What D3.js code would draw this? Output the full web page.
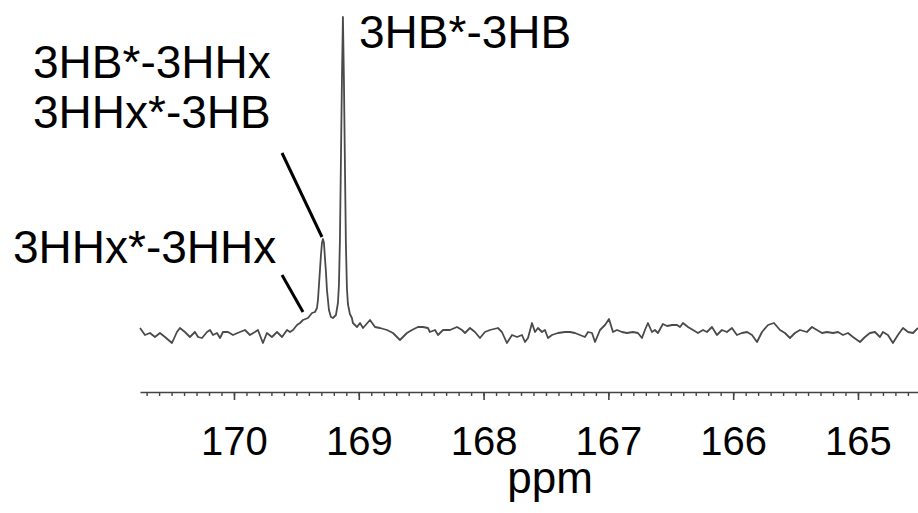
<!DOCTYPE html>
<html>
<head>
<meta charset="utf-8">
<script src="https://cdn.jsdelivr.net/npm/d3@7"></script>
<style>
  body { margin: 0; background: #fff; }
  svg { display: block; font-family: "Liberation Sans", Arial, sans-serif; }
</style>
</head>
<body>
<div id="chart"></div>
<script>
// chemical shift (ppm) and intensity
const ppm = [
  170.753, 170.713, 170.673, 170.633, 170.593, 170.553, 170.497, 170.457, 170.433, 170.393,
  170.353, 170.313, 170.288, 170.256, 170.216, 170.192, 170.168, 170.136, 170.112, 170.088,
  170.048, 170.008, 169.952, 169.912, 169.872, 169.832, 169.808, 169.768, 169.736, 169.696,
  169.655, 169.615, 169.575, 169.551, 169.527, 169.495, 169.471, 169.447, 169.407, 169.375,
  169.351, 169.335, 169.327, 169.311, 169.303, 169.295, 169.287, 169.279, 169.271, 169.263,
  169.255, 169.239, 169.223, 169.207, 169.183, 169.167, 169.159, 169.151, 169.143, 169.135,
  169.127, 169.119, 169.111, 169.103, 169.095, 169.087, 169.071, 169.055, 169.047, 169.014,
  168.990, 168.966, 168.910, 168.870, 168.830, 168.774, 168.726, 168.670, 168.614, 168.574,
  168.526, 168.486, 168.446, 168.430, 168.389, 168.365, 168.325, 168.269, 168.213, 168.173,
  168.149, 168.109, 168.069, 168.029, 167.989, 167.949, 167.885, 167.853, 167.813, 167.772,
  167.732, 167.692, 167.668, 167.644, 167.612, 167.588, 167.564, 167.532, 167.508, 167.484,
  167.452, 167.404, 167.348, 167.308, 167.268, 167.228, 167.188, 167.163, 167.131, 167.107,
  167.067, 167.027, 166.995, 166.963, 166.931, 166.891, 166.851, 166.803, 166.763, 166.731,
  166.707, 166.683, 166.651, 166.627, 166.603, 166.563, 166.530, 166.490, 166.450, 166.426,
  166.402, 166.362, 166.322, 166.282, 166.242, 166.210, 166.170, 166.130, 166.090, 166.050,
  166.010, 165.970, 165.930, 165.889, 165.849, 165.809, 165.769, 165.721, 165.673, 165.625,
  165.585, 165.545, 165.505, 165.465, 165.409, 165.369, 165.329, 165.288, 165.248, 165.200,
  165.160, 165.120, 165.080, 165.040, 164.984, 164.944, 164.904, 164.864, 164.824, 164.800,
  164.760, 164.720, 164.680, 164.639, 164.599, 164.559, 164.519
];
const intensity = [
  5, -2, 0, -4, 0, -4, -10, 1, 5, 1,
  -4, 1, -4, -5, 1, 3, -2, 0, -5, 1,
  1, -2, 1, 3, -2, 1, 3, -10, 0, -4,
  1, -4, 3, 1, 3, 8, 10, 13, 15, 20,
  21, 25, 33, 63, 78, 90, 94, 90, 75, 61,
  43, 23, 16, 15, 18, 30, 48, 93, 173, 253,
  316, 253, 168, 88, 45, 29, 19, 15, 10, 6,
  10, 5, 13, 6, 5, 3, 0, -7, 0, 3,
  6, 6, 5, 1, 3, -2, 3, 3, 6, 3,
  0, 5, 1, -5, 1, 3, 5, 1, -10, -2,
  -4, -2, -9, -5, 10, 1, 5, 1, 3, -5,
  -2, 0, 1, 1, 0, -2, -4, 1, 0, -9,
  3, 8, 14, 1, 3, 1, 0, 1, 0, -5,
  3, 10, 1, 3, 0, 9, 7, 8, 8, 6,
  10, 6, 3, 0, 3, 1, 6, -2, 3, 1,
  5, -2, 0, 1, -2, -9, 1, 8, 10, 3,
  0, -5, 0, 3, 1, 6, 3, 0, 1, 0,
  1, -2, 0, -4, -9, -4, 0, 1, -4, 1,
  -2, -10, -2, 5, 1, 0, 5
];

const majorTicks = [170, 169, 168, 167, 166, 165];
const axisTitle = "ppm";

// peak labels and their pointer lines (in ppm / intensity units)
const labels = [
  { lines: ["3HB*-3HB"], x: 359, y: 48 },
  { lines: ["3HB*-3HHx", "3HHx*-3HB"], x: 33, y: 78 },
  { lines: ["3HHx*-3HHx"], x: 13, y: 263 }
];
const pointers = [
  { from: [169.615, 180], to: [169.295, 96] },
  { from: [169.615, 58], to: [169.447, 21] }
];

const width = 918;
const height = 513;

const svg = d3.select("#chart")
  .append("svg")
  .attr("width", width)
  .attr("height", height);

// NMR style: ppm decreases to the right
const x = d3.scaleLinear()
  .domain([170.753, 164.519])
  .range([140, 918]);

const y = d3.scaleLinear()
  .domain([0, 316])
  .range([333, 17]);

const points = ppm.map((p, i) => [p, intensity[i]]);

const line = d3.line()
  .x(d => x(d[0]))
  .y(d => y(d[1]));

svg.append("path")
  .datum(points)
  .attr("fill", "none")
  .attr("stroke", "#4a4a4a")
  .attr("stroke-width", 1.8)
  .attr("stroke-linejoin", "round")
  .attr("d", line);

// axis: minor ticks every 0.1 ppm, major ticks labelled
const axisY = 392;

const minorAxis = svg.append("g")
  .attr("transform", `translate(0,${axisY})`)
  .call(d3.axisBottom(x).ticks(62).tickSize(4).tickSizeOuter(0).tickFormat(""));

const majorAxis = svg.append("g")
  .attr("transform", `translate(0,${axisY})`)
  .call(d3.axisBottom(x).tickValues(majorTicks).tickSize(8).tickSizeOuter(0)
    .tickPadding(27).tickFormat(d3.format("d")));

majorAxis.select(".domain").remove();
minorAxis.select(".domain").attr("stroke", "#444").attr("stroke-width", 1.6);
minorAxis.selectAll(".tick line").attr("stroke", "#444").attr("stroke-width", 1.4);
majorAxis.selectAll(".tick line").attr("stroke", "#444").attr("stroke-width", 1.6);

majorAxis.selectAll(".tick text")
  .attr("fill", "#000")
  .style("font-size", "40px")
  .style("font-family", "'Liberation Sans', Arial, sans-serif");

svg.append("text")
  .attr("x", 550)
  .attr("y", 493)
  .attr("text-anchor", "middle")
  .style("font-size", "44px")
  .text(axisTitle);

// pointer lines
svg.selectAll(".pointer")
  .data(pointers)
  .enter()
  .append("line")
  .attr("class", "pointer")
  .attr("x1", d => x(d.from[0]))
  .attr("y1", d => y(d.from[1]))
  .attr("x2", d => x(d.to[0]))
  .attr("y2", d => y(d.to[1]))
  .attr("stroke", "#000")
  .attr("stroke-width", 3);

// peak labels
labels.forEach(function(l) {
  const t = svg.append("text")
    .attr("x", l.x)
    .attr("y", l.y)
    .style("font-size", "46px")
    .attr("fill", "#000");
  l.lines.forEach(function(s, i) {
    t.append("tspan")
      .attr("x", l.x)
      .attr("dy", i === 0 ? 0 : 50)
      .text(s);
  });
});
</script>
</body>
</html>
